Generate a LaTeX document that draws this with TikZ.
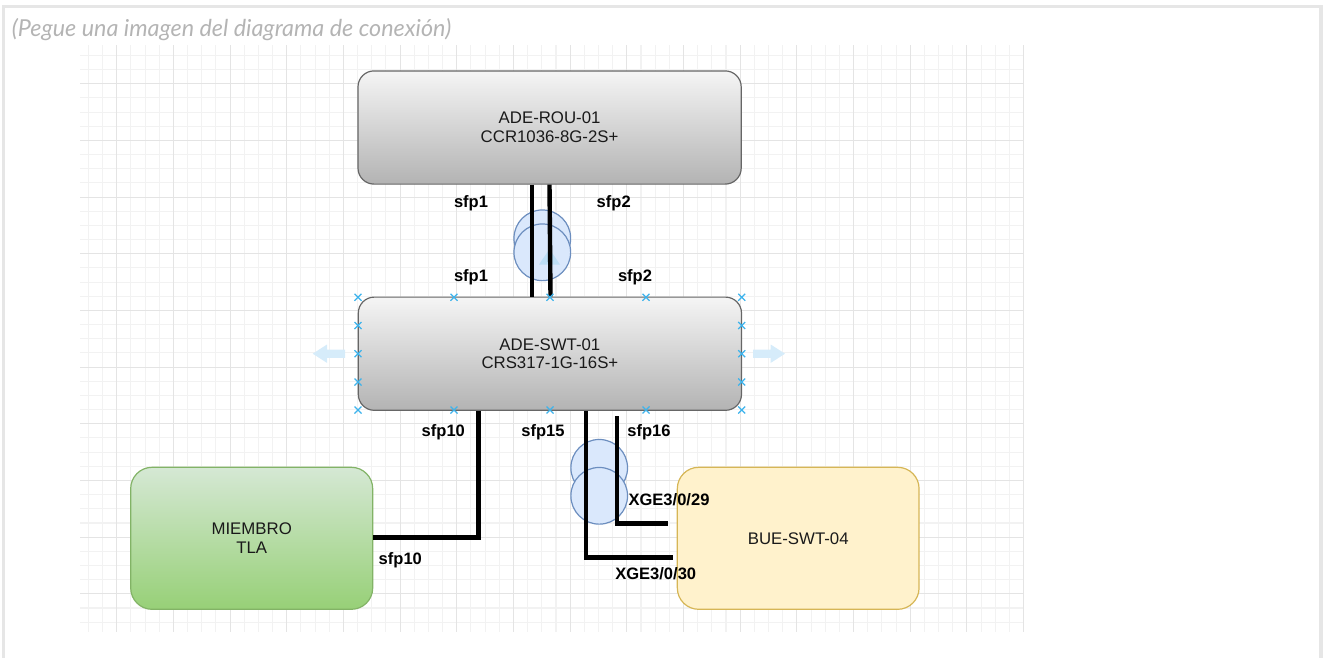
\documentclass[tikz,border=0pt]{standalone}
\usepackage{fontspec}
\setmainfont{Liberation Sans}
\newfontfamily\latofont{Lato}
\usetikzlibrary{arrows.meta}
\definecolor{gridminor}{HTML}{F2F2F2}
\definecolor{gridmajor}{HTML}{E4E4E4}
\definecolor{framegray}{HTML}{E6E6E6}
\definecolor{hintgray}{HTML}{B4B4B4}
\definecolor{graytop}{HTML}{F5F5F5}
\definecolor{graybot}{HTML}{B3B3B3}
\definecolor{graystroke}{HTML}{666666}
\definecolor{greentop}{HTML}{D5E8D4}
\definecolor{greenbot}{HTML}{97D077}
\definecolor{greenstroke}{HTML}{82B366}
\definecolor{yellowfill}{HTML}{FFF2CC}
\definecolor{yellowstroke}{HTML}{D6B656}
\definecolor{bluefill}{HTML}{DAE8FC}
\definecolor{bluestroke}{HTML}{6C8EBF}
\definecolor{handle}{HTML}{3DB3EC}
\definecolor{hoverblue}{HTML}{D6ECFA}
\definecolor{hoverinner}{HTML}{BCDEF6}
\definecolor{txt}{HTML}{1A1A1A}
\begin{document}
\begin{tikzpicture}[x=0.75pt,y=-0.75pt,
  box/.style={draw, rounded corners=12pt, line width=0.9pt, align=center, text=txt,
    font=\fontsize{12.6}{14}\selectfont, inner sep=0pt},
  graybox/.style={box, draw=graystroke, top color=graytop, bottom color=graybot,
    minimum width=287.4pt, minimum height=84.9pt},
  greenbox/.style={box, rounded corners=16pt, draw=greenstroke, top color=greentop, bottom color=greenbot,
    minimum width=181.5pt, minimum height=106.5pt},
  yellowbox/.style={box, rounded corners=16pt, draw=yellowstroke, fill=yellowfill,
    minimum width=181.3pt, minimum height=106.5pt},
  bundle/.style={circle, draw=bluestroke, fill=bluefill, line width=0.9pt, minimum size=42.5pt, inner sep=0pt},
  link/.style={line width=3.3pt, black},
  lbl/.style={font=\fontsize{12.4}{14}\selectfont\bfseries, text=black, inner sep=0pt},
  handlemark/.style={handle, line width=0.9pt},
  hoverarrow/.style={fill=hoverblue, draw=none}
]
\useasboundingbox (0,0) rectangle (1324,657);

% grid
\foreach \k in {-2,...,64} {
  \pgfmathsetmacro\xx{116.7+14.17*\k}
  \draw[gridminor, line width=0.8pt] (\xx,45) -- (\xx,632);
}
\foreach \k in {-2,...,38} {
  \pgfmathsetmacro\yy{83.7+14.17*\k}
  \draw[gridminor, line width=0.8pt] (80,\yy) -- (1024,\yy);
}
\foreach \k in {0,...,16} {
  \pgfmathsetmacro\xx{116.7+56.68*\k}
  \draw[gridmajor, line width=0.8pt] (\xx,45) -- (\xx,632);
}
\foreach \k in {0,...,9} {
  \pgfmathsetmacro\yy{83.7+56.68*\k}
  \draw[gridmajor, line width=0.8pt] (80,\yy) -- (1024,\yy);
}

% outer frame
\draw[framegray, line width=2.4pt] (3.3,660) -- (3.3,6.7) -- (1321,6.7) -- (1321,660);

% header hint
\node[anchor=base west, inner sep=0pt, text=hintgray, font=\latofont\itshape\fontsize{17.5}{20}\selectfont] (hint) at (11.5,36) {(Pegue una imagen del diagrama de conexión)};

% bundles (drawn below the links)
\node[bundle] (b1a) at (542.3,238.3) {};
\node[bundle] (b1b) at (542.3,252.3) {};
\node[bundle] (b2a) at (599.2,467.8) {};
\node[bundle] (b2b) at (599.2,495.8) {};

% hover arrow in top bundle
\fill[hoverinner] (549.5,249) -- (560,264.5) -- (539,264.5) -- cycle;

% nodes
\node[graybox] (rou) at (549.6,127.5) {ADE-ROU-01\\CCR1036-8G-2S+};
\node[graybox] (swt) at (549.9,353.7) {ADE-SWT-01\\CRS317-1G-16S+};
\node[greenbox] (tla) at (251.7,538.3) {MIEMBRO\\TLA};
\node[yellowbox] (bue) at (798.2,538.3) {BUE-SWT-04};

% links
\draw[link] (531.7,0 |- rou.south) -- (531.7,0 |- swt.north);
\draw[link] (549.5,0 |- rou.south) -- (550.5,0 |- swt.north);

\coordinate (e10) at (478.3,537.3);
\draw[link] (478.3,0 |- swt.south) -- (e10) -- (tla.east |- e10);

\coordinate (e15) at (673.3,557.3);
\draw[link] (586,0 |- swt.south) |- (e15);

\coordinate (s16) at (616.7,416);
\coordinate (e16) at (668.3,523.3);
\draw[link] (s16) |- (e16);

% labels
\node[lbl] (l1a) at (471,203.3) {sfp1};
\node[lbl] (l2a) at (613.7,203.3) {sfp2};
\node[lbl] (l1b) at (471,277.3) {sfp1};
\node[lbl] (l2b) at (635,277.3) {sfp2};
\node[lbl] (l10a) at (443.3,432.3) {sfp10};
\node[lbl] (l15) at (543,432.3) {sfp15};
\node[lbl] (l16) at (649,432.3) {sfp16};
\node[lbl] (l10b) at (400.3,560.7) {sfp10};
\node[lbl, anchor=west] (x29) at (628.3,500) {XGE3/0/29};
\node[lbl, anchor=west] (x30) at (615,573.3) {XGE3/0/30};

% selection handles on ADE-SWT-01
\foreach \hx in {358,454,550,646,741.7} {
  \foreach \hy in {297.3,410} {
    \draw[handlemark] (\hx-3.5,\hy-3.5) -- (\hx+3.5,\hy+3.5) (\hx-3.5,\hy+3.5) -- (\hx+3.5,\hy-3.5);
  }
}
\foreach \hx in {358,741.7} {
  \foreach \hy in {325.5,353.7,382} {
    \draw[handlemark] (\hx-3.5,\hy-3.5) -- (\hx+3.5,\hy+3.5) (\hx-3.5,\hy+3.5) -- (\hx+3.5,\hy-3.5);
  }
}

% hover arrows beside ADE-SWT-01
\fill[hoverblue] (312.7,353.7) -- (327,344.5) -- (327,349.5) -- (345,349.5) -- (345,357.9) -- (327,357.9) -- (327,362.9) -- cycle;
\fill[hoverblue] (785,353.7) -- (770.7,344.5) -- (770.7,349.5) -- (753,349.5) -- (753,357.9) -- (770.7,357.9) -- (770.7,362.9) -- cycle;
\end{tikzpicture}
\end{document}
